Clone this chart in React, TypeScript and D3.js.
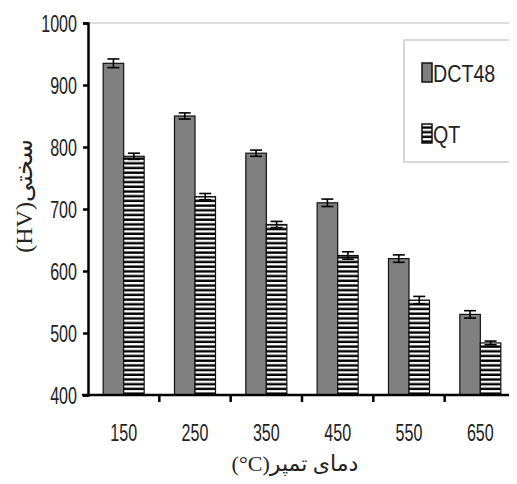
import React, { useRef, useEffect } from "react";
import * as d3 from "d3";

const categories = ["150", "250", "350", "450", "550", "650"];
const seriesNames = ["DCT48", "QT"];
const dct48 = [935, 850, 790, 710, 620, 530];
const dct48Err = [7, 5, 5, 6, 6, 6];
const qt = [785, 720, 675, 625, 553, 484];
const qtErr = [5, 5, 5, 6, 6, 3];
const yTicks = [400, 500, 600, 700, 800, 900, 1000];

const W = 517;
const H = 484;
const margin = { top: 23, right: 1, bottom: 89, left: 88 };
const numFont = "'Liberation Sans', Arial, sans-serif";
const faFont = "'Liberation Serif', 'DejaVu Sans', serif";

const App = () => {
  const svgRef = useRef<SVGSVGElement>(null);

  useEffect(() => {
    if (!svgRef.current) return;
    const svg = d3.select(svgRef.current);
    svg.selectAll("*").remove();

    const x0 = d3
      .scaleBand<string>()
      .domain(categories)
      .range([margin.left, W - margin.right])
      .paddingInner(0.425)
      .paddingOuter(0.2125);
    const x1 = d3.scaleBand<string>().domain(seriesNames).range([0, x0.bandwidth()]);
    const y = d3.scaleLinear().domain([400, 1000]).range([H - margin.bottom, margin.top]);

    // stripes for QT
    const defs = svg.append("defs");
    const pat = defs
      .append("pattern")
      .attr("id", "stripes")
      .attr("patternUnits", "userSpaceOnUse")
      .attr("width", 8)
      .attr("height", 4.7);
    pat.append("rect").attr("width", 8).attr("height", 4.7).attr("fill", "#fff");
    pat.append("rect").attr("y", 2.3).attr("width", 8).attr("height", 2.4).attr("fill", "#000");

    // top frame line
    svg
      .append("line")
      .attr("x1", margin.left)
      .attr("x2", W)
      .attr("y1", y(1000))
      .attr("y2", y(1000))
      .attr("stroke", "#bbb")
      .attr("stroke-width", 1.2);

    const rows = categories.map((c, i) => ({
      c,
      vals: [
        { k: "DCT48", v: dct48[i], e: dct48Err[i] },
        { k: "QT", v: qt[i], e: qtErr[i] },
      ],
    }));

    const g = svg
      .append("g")
      .selectAll("g")
      .data(rows)
      .join("g")
      .attr("transform", (d) => `translate(${x0(d.c)},0)`);

    g.selectAll("rect")
      .data((d) => d.vals)
      .join("rect")
      .attr("x", (d) => x1(d.k)!)
      .attr("y", (d) => y(d.v))
      .attr("width", x1.bandwidth())
      .attr("height", (d) => y(400) - y(d.v))
      .attr("fill", (d) => (d.k === "QT" ? "url(#stripes)" : "#808080"))
      .attr("stroke", "#111")
      .attr("stroke-width", 1.2);

    const eb = g
      .selectAll("g.err")
      .data((d) => d.vals)
      .join("g")
      .attr("class", "err")
      .attr("stroke", "#000")
      .attr("stroke-width", 1.6);
    const cx = (d: any) => x1(d.k)! + x1.bandwidth() / 2;
    eb.append("line")
      .attr("x1", cx)
      .attr("x2", cx)
      .attr("y1", (d: any) => y(d.v + d.e))
      .attr("y2", (d: any) => y(d.v - d.e));
    ["+", "-"].forEach((s) => {
      eb.append("line")
        .attr("x1", (d: any) => cx(d) - 6)
        .attr("x2", (d: any) => cx(d) + 6)
        .attr("y1", (d: any) => y(s === "+" ? d.v + d.e : d.v - d.e))
        .attr("y2", (d: any) => y(s === "+" ? d.v + d.e : d.v - d.e));
    });

    // y axis
    const yAxis = svg
      .append("g")
      .attr("transform", `translate(${margin.left},0)`)
      .call(d3.axisLeft(y).tickValues(yTicks).tickSize(5).tickFormat(d3.format("d")));
    yAxis.select(".domain").attr("stroke", "#000").attr("stroke-width", 2.5);
    yAxis.selectAll(".tick line").attr("stroke", "#000").attr("stroke-width", 2.5);
    yAxis
      .selectAll(".tick text")
      .attr("x", null)
      .attr("dy", null)
      .attr("transform", "translate(-11,8) scale(0.7,1)")
      .attr("font-family", numFont)
      .attr("font-size", 23)
      .attr("fill", "#222");

    // x axis: ticks between categories
    const step = x0.step();
    const bounds = d3.range(categories.length + 1).map((i) => margin.left + i * step);
    const xAxis = svg.append("g").attr("transform", `translate(0,${y(400)})`);
    xAxis
      .append("line")
      .attr("x1", margin.left - 6)
      .attr("x2", W)
      .attr("stroke", "#000")
      .attr("stroke-width", 2.5);
    xAxis
      .selectAll("line.t")
      .data(bounds.slice(1))
      .join("line")
      .attr("class", "t")
      .attr("x1", (d) => d)
      .attr("x2", (d) => d)
      .attr("y2", 7)
      .attr("stroke", "#000")
      .attr("stroke-width", 2.5);
    xAxis
      .selectAll("text")
      .data(categories)
      .join("text")
      .attr("transform", (d) => `translate(${x0(d)! + x0.bandwidth() / 2},46) scale(0.7,1)`)
      .attr("text-anchor", "middle")
      .attr("font-family", numFont)
      .attr("font-size", 23)
      .attr("fill", "#222")
      .text((d) => d);

    // axis titles
    svg
      .append("text")
      .attr("transform", `translate(32,196) rotate(-90)`)
      .attr("text-anchor", "middle")
      .attr("direction", "rtl")
      .attr("font-family", faFont)
      .attr("font-size", 24)
      .attr("fill", "#222")
      .text("سختی(HV)");

    svg
      .append("text")
      .attr("x", 295)
      .attr("y", 471)
      .attr("text-anchor", "middle")
      .attr("direction", "rtl")
      .attr("font-family", faFont)
      .attr("font-size", 22)
      .attr("fill", "#222")
      .text("دمای تمپر(\u200E°C)");

    // legend
    const lg = svg.append("g");
    lg.append("rect")
      .attr("x", 404)
      .attr("y", 40)
      .attr("width", 109)
      .attr("height", 122)
      .attr("fill", "#fff")
      .attr("stroke", "#ccc")
      .attr("stroke-width", 1.5);
    const items = lg
      .selectAll("g")
      .data(seriesNames)
      .join("g")
      .attr("transform", (d, i) => `translate(422,${63 + i * 61})`);
    items
      .append("rect")
      .attr("width", 10)
      .attr("height", 19)
      .attr("fill", (d) => (d === "QT" ? "url(#stripes)" : "#808080"))
      .attr("stroke", "#111")
      .attr("stroke-width", 1.5);
    items
      .append("text")
      .attr("transform", "translate(11,19) scale(0.82,1)")
      .attr("font-family", numFont)
      .attr("font-size", 24)
      .attr("fill", "#222")
      .text((d) => d);
  }, []);

  return (
    <div style={{ margin: "-8px" }}>
      <svg ref={svgRef} width={W} height={H} style={{ display: "block" }}></svg>
    </div>
  );
};

export default App;
